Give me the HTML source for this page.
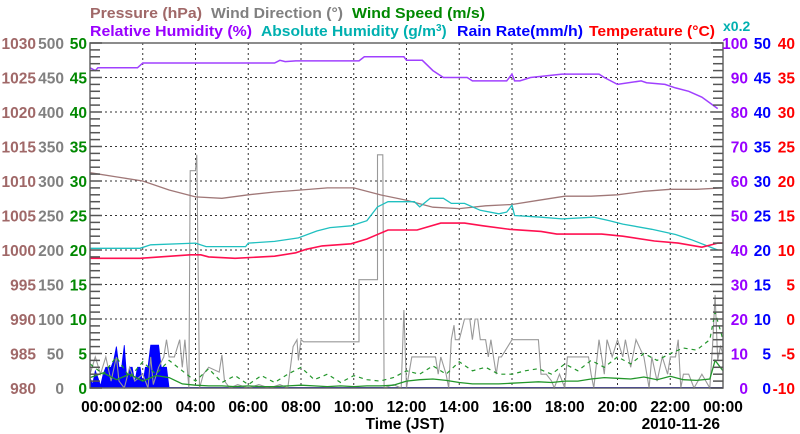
<!DOCTYPE html>
<html><head><meta charset="utf-8">
<style>
html,body{margin:0;padding:0;background:#fff;}
svg{display:block;font-family:"Liberation Sans",sans-serif;font-weight:bold;}
</style></head>
<body>
<svg id="chart" width="800" height="434" viewBox="0 0 800 434" xmlns="http://www.w3.org/2000/svg">
<g id="legend" font-size="15">
<text x="90" y="18" fill="#a06868" textLength="112" lengthAdjust="spacingAndGlyphs">Pressure (hPa)</text>
<text x="211" y="18" fill="#808080" textLength="132" lengthAdjust="spacingAndGlyphs">Wind Direction (°)</text>
<text x="352" y="18" fill="#008800" textLength="133" lengthAdjust="spacingAndGlyphs">Wind Speed (m/s)</text>
<text x="90" y="36" fill="#9900ff" textLength="162" lengthAdjust="spacingAndGlyphs">Relative Humidity (%)</text>
<text x="261" y="36" fill="#00b0b0"><tspan textLength="175" lengthAdjust="spacingAndGlyphs">Absolute Humidity (g/m</tspan><tspan dy="-5" font-size="10">3</tspan><tspan dy="5">)</tspan></text>
<text x="457" y="36" fill="#0000ff" textLength="126" lengthAdjust="spacingAndGlyphs">Rain Rate(mm/h)</text>
<text x="589" y="36" fill="#ff0000" textLength="126" lengthAdjust="spacingAndGlyphs">Temperature (°C)</text>
<text x="723" y="31" fill="#00b0b0" font-size="14">x0.2</text>
</g>
<g id="grid"></g>
<g id="series"></g>
<g id="axes"></g>
<text x="405" y="429" text-anchor="middle" font-size="15.5" fill="#000">Time (JST)</text>
<text x="720" y="429" text-anchor="end" font-size="15.5" fill="#000">2010-11-26</text>
</svg>
<script>
// ---- data ----
const xTickLabels = ["00:00","02:00","04:00","06:00","08:00","10:00","12:00","14:00","16:00","18:00","20:00","22:00","00:00"];
const pressureTicks = [980,985,990,995,1000,1005,1010,1015,1020,1025,1030];
const windDirTicks = [0,50,100,150,200,250,300,350,400,450,500];
const windSpeedTicks = [0,5,10,15,20,25,30,35,40,45,50];
const rhTicks = [0,10,20,30,40,50,60,70,80,90,100];
const rainTicks = [0,5,10,15,20,25,30,35,40,45,50];
const tempTicks = [-10,-5,0,5,10,15,20,25,30,35,40];

const hourlyTimes = [0,1,2,3,4,5,6,7,8,9,10,11,12,13,14,15,16,17,18,19,20,21,22,23,24];
const pressureValues = [1011.2,1010.6,1010.0,1008.7,1007.7,1007.5,1008.0,1008.4,1008.7,1009.0,1009.0,1008.0,1007.2,1006.2,1006.0,1006.4,1006.6,1007.2,1007.8,1007.8,1008.0,1008.5,1008.8,1008.8,1009.0];

const rhTimes = [0,0.2,0.3,1.8,2.0,7.0,7.2,7.4,7.8,8.0,10.0,10.2,10.4,11.2,11.4,11.9,12.0,12.3,12.6,13.0,13.4,14.3,14.5,14.8,15.2,15.8,16.0,16.1,16.3,16.7,17.9,19.3,19.5,20.0,20.9,21.1,21.8,22.2,22.7,23.2,23.8];
const rhValues = [92.8,92.0,92.8,92.8,94.2,94.2,95.0,94.6,94.8,94.8,94.8,94.8,96.0,96.0,96.0,96.0,95.0,95.0,95.0,92.0,90.0,90.0,89.0,89.0,89.0,89.0,91.0,89.0,89.0,90.0,91.0,91.0,90.0,88.0,89.0,88.5,88.0,87.0,86.0,84.3,81.0];

const ahTimes = [0,1.9,2.3,4.0,4.4,5.9,6.0,7.0,7.9,8.6,9.1,9.9,10.5,10.9,11.3,12.1,12.3,12.5,12.9,13.4,13.7,14.2,14.8,15.5,15.8,16.0,16.1,17.1,17.9,19.1,19.7,20.2,21.3,22.2,22.8,23.8];
const ahValues = [8.1,8.1,8.3,8.4,8.2,8.2,8.4,8.5,8.7,9.1,9.3,9.4,9.7,10.5,10.8,10.8,10.8,10.5,11.0,11.0,10.7,10.7,10.3,10.1,10.2,10.6,10.0,9.9,9.8,9.9,9.7,9.5,9.2,8.9,8.6,8.0];

const tempTimes = [0,1.9,3.8,4.2,4.5,5.5,7.0,7.8,8.2,8.8,9.9,10.5,11.3,12.1,12.4,13.3,14.2,14.9,15.9,17.1,17.7,19.4,20.2,21.4,22.3,23.2,23.6,23.8,24.0];
const tempValues = [8.8,8.8,9.3,9.3,9.0,8.8,9.1,9.6,10.1,10.6,10.9,11.6,12.9,12.9,12.9,13.9,13.9,13.5,13.0,12.7,12.3,12.3,12.0,11.3,11.0,10.4,10.8,11.0,11.0];

const windDirTimes = [0,0.2,0.4,0.6,0.8,1.0,1.1,1.3,1.5,1.7,2.0,2.2,2.3,2.4,2.6,2.8,2.9,3.0,3.2,3.4,3.5,3.6,3.75,3.8,4.0,4.05,4.15,4.3,4.5,4.9,5.0,5.1,5.3,5.6,6.0,6.4,6.8,7.2,7.5,7.7,7.85,7.9,8.0,8.1,10.2,10.2,10.9,10.9,11.1,11.15,11.5,11.8,11.9,12.0,12.2,12.3,13.1,13.2,13.3,13.5,13.6,13.7,13.8,13.85,14.0,14.2,14.4,14.5,14.6,14.7,14.8,15.0,15.1,15.2,15.3,15.4,15.5,15.6,16.0,17.0,17.1,17.3,17.5,17.6,17.8,18.0,18.1,18.9,19.0,19.1,19.3,19.5,19.6,19.8,20.0,20.2,20.3,20.5,20.7,21.0,21.2,21.3,21.5,21.7,21.9,22.0,22.2,22.3,22.4,22.5,22.7,22.9,23.2,23.5,23.6,23.7,23.8,23.9,24.0];
const windDirValues = [20,45,20,45,10,45,10,0,30,10,20,0,45,5,30,45,70,45,45,70,30,70,0,315,315,338,0,20,30,23,48,10,0,5,0,5,0,5,0,60,70,40,70,67,67,157,157,338,338,0,5,0,113,0,45,45,45,20,45,20,0,70,91,70,70,100,100,70,100,100,70,70,45,70,45,20,45,45,70,70,20,20,10,0,20,0,45,45,20,0,70,20,70,45,70,45,70,30,70,45,0,45,10,45,20,45,45,70,0,20,20,0,20,0,60,135,40,60,50];

const speedTimes = [0,0.5,1,1.5,2,2.5,3,3.5,4,4.5,5,5.5,6,6.5,7,7.5,8,8.5,9,9.5,10,10.5,11,11.5,12,12.5,13,13.5,14,14.5,15,15.5,16,16.5,17,17.5,18,18.5,19,19.5,20,20.5,21,21.5,22,22.5,23,23.5,23.7,24];
const speedValues = [1.5,2.2,1.2,2.0,1.0,1.8,1.5,0.6,0.4,0.3,0.3,0.2,0.3,0.2,0.2,0.3,0.4,0.3,0.2,0.3,0.2,0.3,0.3,0.4,1.0,1.2,1.3,1.1,0.8,0.6,0.6,0.6,0.7,0.8,0.9,0.8,1.0,1.0,1.3,1.5,1.4,1.3,1.6,1.2,1.7,1.2,1.1,1.3,4.0,2.5];
const gustValues = [3.5,2.0,4.5,1.5,3.8,2.0,4.0,2.5,1.0,2.8,0.8,1.8,0.5,1.8,0.8,2.0,3.0,1.2,2.0,0.8,1.8,1.2,1.0,1.5,2.5,2.0,3.2,2.0,3.8,2.5,3.0,2.0,2.0,2.5,2.8,2.0,3.5,2.5,4.0,3.0,4.5,3.5,5.0,4.0,5.0,5.8,5.5,7.0,11.0,7.0];

const rainTimes = [0,0.1,0.2,0.3,0.4,0.5,0.6,0.7,0.8,0.9,1.0,1.1,1.2,1.3,1.4,1.5,1.6,1.7,1.8,1.9,2.0,2.1,2.2,2.3,2.4,2.5,2.6,2.7,2.8,2.9,3.0];
const rainValues = [1.5,0.5,2.5,1.5,0.3,2,3,3,3,4,6,3,3,6.2,1,3,3,0.8,3,3,0.5,3,3,6.2,6.2,6.2,6.2,3,3,3,0];

// ---- scales ----
const X0=90, X1=723, Y0=388, Y1=43;
const xS = h => X0 + (X1-X0)*h/24;
const yP = v => Y0 - (Y0-Y1)*(v-980)/50;
const yD = v => Y0 - (Y0-Y1)*v/500;
const yW = v => Y0 - (Y0-Y1)*v/50;
const yRH = v => Y0 - (Y0-Y1)*v/100;
const yAH = v => Y0 - (Y0-Y1)*v/20;
const yR = v => Y0 - (Y0-Y1)*v/50;
const yT = v => Y0 - (Y0-Y1)*(v+10)/50;

const NS="http://www.w3.org/2000/svg";
function mk(tag, attrs, parent){
  const e=document.createElementNS(NS,tag);
  for(const k in attrs) e.setAttribute(k,attrs[k]);
  parent.appendChild(e); return e;
}
const grid=document.getElementById('grid');
const axes=document.getElementById('axes');
const series=document.getElementById('series');

for(let i=1;i<12;i++){
  const x=xS(i*2);
  const l=mk('line',{x1:x,y1:Y1,x2:x,y2:Y0,stroke:'#333','stroke-width':1,'stroke-dasharray':'2,3'},grid);
  
  
}
for(let i=1;i<10;i++){
  const y=Y0-(Y0-Y1)*i/10;
  const l=mk('line',{x1:X0,y1:y,x2:X1,y2:y,stroke:'#333','stroke-width':1,'stroke-dasharray':'2,3'},grid);
  
  
}
const fr=mk('rect',{x:X0,y:Y1,width:X1-X0,height:Y0-Y1,fill:'none',stroke:'#666','stroke-width':1.5},axes);


for(let i=0;i<=50;i++){
  const y=Y0-(Y0-Y1)*i/50; const major=i%5===0; const len=major?12:10;
  mk('line',{x1:X0,y1:y,x2:X0+len,y2:y,stroke:'#555','stroke-width':1.5},axes);
  mk('line',{x1:X1,y1:y,x2:X1-len,y2:y,stroke:'#555','stroke-width':1.5},axes);
}
function lbl(arr, xr, color, name){
  arr.forEach((v,i)=>{
    const t=mk('text',{x:xr,y:Y0-(Y0-Y1)*i/10+6,'text-anchor':'end',fill:color,'font-size':15.5},axes);
    t.textContent=v;
    
    
  });
}
lbl(pressureTicks,36,'#a06868','pressure-tick-label');
lbl(windDirTicks,64,'#808080','wind-direction-tick-label');
lbl(windSpeedTicks,87,'#008800','wind-speed-tick-label');
lbl(rhTicks,748,'#9900ff','rh-tick-label');
lbl(rainTicks,771,'#0000ff','rain-tick-label');
lbl(tempTicks,795,'#ff0000','temperature-tick-label');
xTickLabels.forEach((s,i)=>{
  const t=mk('text',{x:xS(i*2)+(i===0?11:0),y:412,'text-anchor':'middle',fill:'#000','font-size':15.5},axes);
  t.textContent=s;
  
  
});

function line(times, vals, yf, color, name, extra){
  const d=times.map((t,i)=>(i?'L':'M')+xS(t).toFixed(1)+','+yf(vals[i]).toFixed(1)).join(' ');
  const p=mk('path',Object.assign({d:d,fill:'none',stroke:color,'stroke-width':1.3},extra||{}),series);
  
  
}
{
  let d='M'+xS(rainTimes[0])+','+Y0;
  rainTimes.forEach((t,i)=>{ d+=' L'+xS(t).toFixed(1)+','+yR(rainValues[i]).toFixed(1); });
  d+=' L'+xS(rainTimes[rainTimes.length-1])+','+Y0+' Z';
  const p=mk('path',{d:d,fill:'#0000ff',stroke:'#0000ff','stroke-width':0.8},series);
  
  
  const b=mk('line',{x1:X0,y1:Y0-0.5,x2:X1,y2:Y0-0.5,stroke:'#0000ff','stroke-width':1},series);
  
  
}
line(windDirTimes,windDirValues,yD,'#999','wind-direction-line',{'stroke-width':1.1});
line(speedTimes,gustValues,yW,'#22962a','wind-gust-line',{'stroke-dasharray':'4,4','stroke-width':1.2});
line(speedTimes,speedValues,yW,'#22962a','wind-speed-line');
line(hourlyTimes,pressureValues,yP,'#a07878','pressure-line');
line(ahTimes,ahValues,yAH,'#20c0c0','absolute-humidity-line');
line(tempTimes,tempValues,yT,'#ff1050','temperature-line',{'stroke-width':1.6});
line(rhTimes,rhValues,yRH,'#a040ff','relative-humidity-line',{'stroke-width':1.5});
</script>
</body></html>
